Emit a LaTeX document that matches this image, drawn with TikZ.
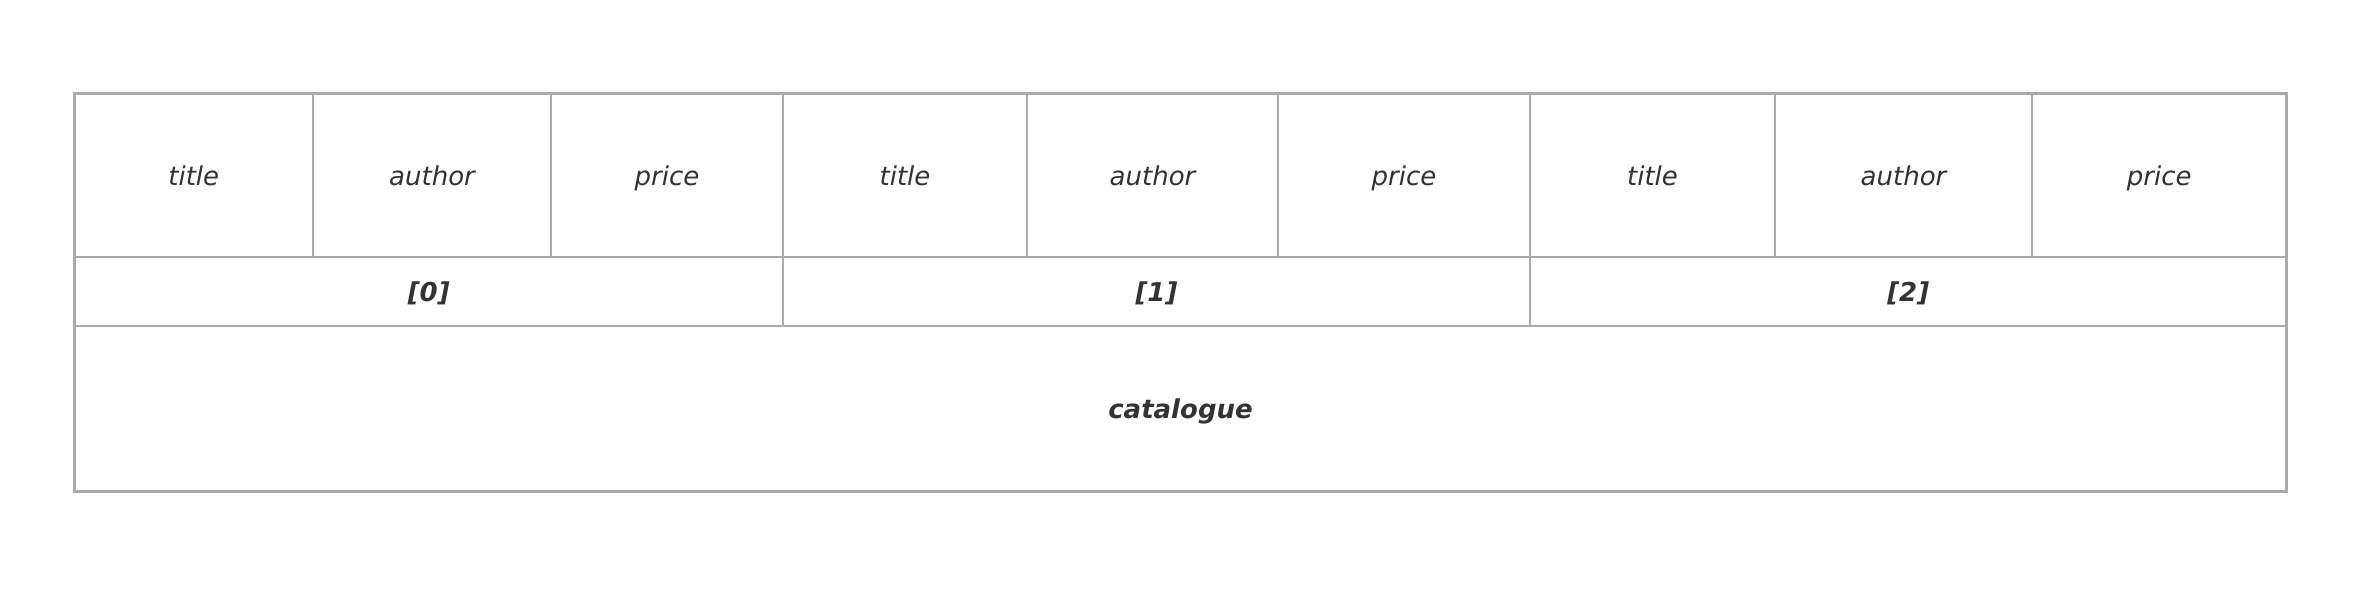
\documentclass[tikz,border=0pt]{standalone}
\usepackage{fontspec}
\setmainfont{DejaVu Sans}
\begin{document}
\begin{tikzpicture}[x=1pt,y=-1pt,
  cell/.style={rectangle, draw=linegray, line width=1.6pt, inner sep=0pt, outer sep=0pt,
    text=textgray, text height=20pt, text depth=0pt, font=\fontsize{26}{30}\selectfont\itshape},
  boldcell/.style={cell, font=\fontsize{26}{30}\selectfont\bfseries\itshape}]
\definecolor{linegray}{HTML}{AAAAAA}
\definecolor{textgray}{HTML}{333333}
\useasboundingbox (0,0) rectangle (2366,592);
\fill[white] (0,0) rectangle (2366,592);
% row 1
\node[cell, minimum width=238.5pt, minimum height=163.2pt] (t0) at (193.75,175.1) {title};
\node[cell, minimum width=238pt, minimum height=163.2pt] (a0) at (432,175.1) {author};
\node[cell, minimum width=232pt, minimum height=163.2pt] (p0) at (667,175.1) {price};
\node[cell, minimum width=244pt, minimum height=163.2pt] (t1) at (905,175.1) {title};
\node[cell, minimum width=251pt, minimum height=163.2pt] (a1) at (1152.5,175.1) {author};
\node[cell, minimum width=252pt, minimum height=163.2pt] (p1) at (1404,175.1) {price};
\node[cell, minimum width=245pt, minimum height=163.2pt] (t2) at (1652.5,175.1) {title};
\node[cell, minimum width=257pt, minimum height=163.2pt] (a2) at (1903.5,175.1) {author};
\node[cell, minimum width=254.5pt, minimum height=163.2pt] (p2) at (2159.25,175.1) {price};
% row 2
\node[boldcell, minimum width=708.5pt, minimum height=69.3pt] (g0) at (428.75,291.35) {[0]};
\node[boldcell, minimum width=747pt, minimum height=69.3pt] (g1) at (1156.5,291.35) {[1]};
\node[boldcell, minimum width=756.5pt, minimum height=69.3pt] (g2) at (1908.25,291.35) {[2]};
% row 3
\node[boldcell, minimum width=2212pt, minimum height=165.5pt] (cat) at (1180.5,408.75) {catalogue};
% outer frame
\draw[linegray, line width=3pt] (t0.north west) rectangle (cat.south east);
\end{tikzpicture}
\end{document}
